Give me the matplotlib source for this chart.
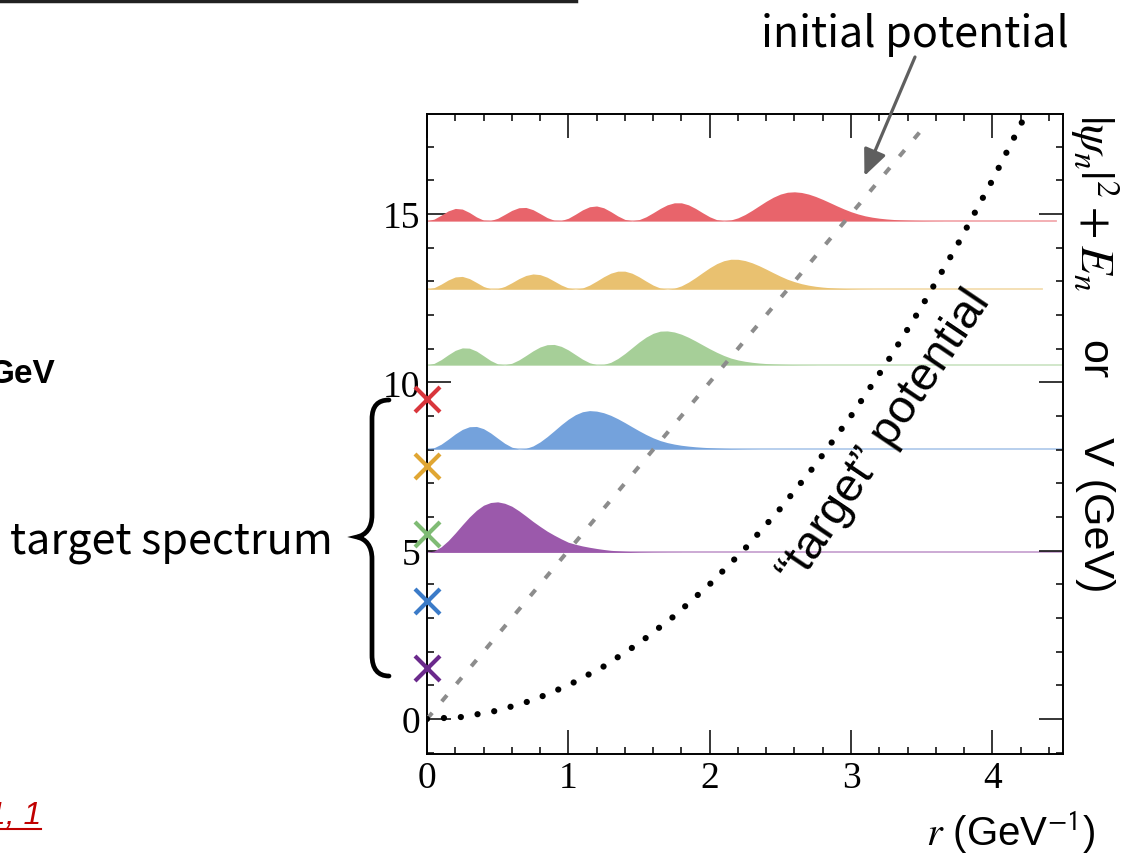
import matplotlib
matplotlib.use('Agg')
import matplotlib.pyplot as plt
import numpy as np
from matplotlib.path import Path
from matplotlib.patches import PathPatch
from matplotlib.transforms import IdentityTransform
from matplotlib.ticker import MultipleLocator

plt.rcParams['mathtext.fontset'] = 'stix'
plt.rcParams['font.family'] = ['Liberation Sans', 'DejaVu Sans']

# |psi_n|^2 sampled every dr from r = 0 (GeV^-1)
dr = 0.05
psi0 = [0, 0.042, 0.163, 0.348, 0.575, 0.818, 1.05, 1.249, 1.40, 1.48, 1.50,
        1.457, 1.37, 1.235, 1.08, 0.918, 0.77, 0.63, 0.51, 0.40, 0.30,
        0.24, 0.19, 0.15, 0.115, 0.085, 0.06, 0.045, 0.032, 0.022, 0.015,
        0.011, 0.007, 0.005, 0.003, 0.002, 0.001]
psi1 = [0, 0.038, 0.142, 0.290, 0.448, 0.581, 0.661, 0.669, 0.603, 0.477, 0.321,
        0.169, 0.054, 0.002, 0.018, 0.090, 0.211, 0.367, 0.542, 0.722, 0.885,
        1.018, 1.106, 1.14, 1.125, 1.077, 1.000, 0.899, 0.784, 0.662, 0.542,
        0.430, 0.331, 0.25, 0.19, 0.145, 0.11, 0.085, 0.065, 0.05, 0.038,
        0.028, 0.02, 0.014, 0.01, 0.006, 0.003, 0.001]
psi2 = [0, 0.042, 0.154, 0.299, 0.430, 0.503, 0.495, 0.408, 0.270, 0.128, 0.027,
        0.001, 0.046, 0.145, 0.277, 0.415, 0.530, 0.598, 0.605, 0.548, 0.442,
        0.305, 0.169, 0.062, 0.005,
        0.011, 0.074, 0.187, 0.336, 0.505, 0.675, 0.823, 0.936, 1.000,
        1.007, 0.975, 0.909, 0.818, 0.709, 0.593, 0.478, 0.372, 0.278,
        0.20, 0.145, 0.105, 0.075, 0.053, 0.037, 0.026, 0.018, 0.012, 0.008,
        0.005, 0.003, 0.001]
psi3 = [0, 0.041, 0.146, 0.270, 0.360, 0.376, 0.312, 0.197, 0.077, 0.007,
        0.012, 0.079, 0.188, 0.309, 0.404, 0.449, 0.429, 0.352, 0.237, 0.120,
        0.032, 0,
        0.031, 0.117, 0.237, 0.365, 0.472, 0.532, 0.532, 0.472, 0.365, 0.237,
        0.117, 0.031, 0,
        0.025, 0.096, 0.206, 0.342, 0.490, 0.633, 0.755, 0.842, 0.886,
        0.884, 0.847, 0.781, 0.693, 0.592, 0.486, 0.384, 0.292,
        0.22, 0.16, 0.115, 0.082, 0.058, 0.04, 0.027, 0.018, 0.011, 0.006,
        0.003, 0.001]
psi4 = [0, 0.047, 0.165, 0.292, 0.365, 0.346, 0.245, 0.113, 0.017,
        0.006, 0.073, 0.188, 0.307, 0.386, 0.394, 0.328, 0.213, 0.093, 0.014,
        0.006, 0.074, 0.193, 0.322, 0.415, 0.438, 0.385, 0.272, 0.142, 0.039, 0,
        0.031, 0.117, 0.237, 0.365, 0.472, 0.532, 0.532, 0.472, 0.365, 0.237,
        0.117, 0.031, 0,
        0.022, 0.086, 0.184, 0.308, 0.444, 0.579, 0.698, 0.791, 0.846,
        0.859, 0.839, 0.791, 0.720, 0.634, 0.539, 0.442, 0.350, 0.268,
        0.20, 0.145, 0.105, 0.075, 0.053, 0.037, 0.025, 0.017, 0.011, 0.007,
        0.004, 0.002, 0.001]
psi = [psi0, psi1, psi2, psi3, psi4]

# energy levels of the initial potential, used as baselines
E_init = [4.95, 8.02, 10.52, 12.77, 14.80]
line_end = [4.5, 4.5, 4.5, 4.35, 4.45]
# target spectrum
E_target = [1.5, 3.5, 5.5, 7.5, 9.5]

fill_colors = ['#9b59ab', '#74a2dc', '#a6cf98', '#e9c170', '#e8646b']
cross_colors = ['#6b2a8c', '#3b7bc8', '#7fbb74', '#e0a633', '#d9363c']

# potentials
r_target = [0, 0.25, 0.5, 0.75, 1.0, 1.25, 1.5, 1.75, 2.0, 2.25, 2.5, 2.75,
            3.0, 3.25, 3.5, 3.75, 4.0, 4.25]
V_target = [0, 0.06, 0.25, 0.56, 1.0, 1.56, 2.25, 3.06, 4.0, 5.06, 6.25, 7.56,
            9.0, 10.56, 12.25, 14.06, 16.0, 18.06]
r_init = [0, 3.55]
V_init = [0, 17.75]

W, H = 1128, 854
fig = plt.figure(figsize=(W / 100, H / 100), dpi=100)
ax = fig.add_axes([427 / W, 1 - 755 / H, 636 / W, 640 / H])

for i in range(5):
    r = np.arange(len(psi[i])) * dr
    ax.plot([0, line_end[i]], [E_init[i], E_init[i]], color=fill_colors[i],
            lw=1.3, alpha=0.55, zorder=1)
    ax.fill_between(r, E_init[i], E_init[i] + np.array(psi[i]),
                    color=fill_colors[i], lw=0, zorder=2)
    ax.plot(0, E_target[i], marker='x', ms=18, mew=3, color=cross_colors[i],
            clip_on=False, zorder=6, ls='none')

ax.plot(r_init, V_init, color='#8c8c8c', lw=2.9, ls=(0, (2, 3.7)), zorder=4)
ax.plot(r_target, V_target, color='black', lw=4.5, ls=(0, (0.01, 2.7)),
        dash_capstyle='round', zorder=4)

ax.set_xlim(0, 4.5)
ax.set_ylim(-1.04, 17.97)
ax.set_xticks([0, 1, 2, 3, 4])
ax.set_yticks([0, 5, 10, 15])
ax.xaxis.set_minor_locator(MultipleLocator(0.2))
ax.yaxis.set_minor_locator(MultipleLocator(1))
ax.tick_params(which='both', direction='in', top=True, right=True,
               width=1.1, labelsize=27, labelfontfamily='Liberation Serif')
ax.tick_params(which='major', length=17, pad=5)
ax.tick_params(which='minor', length=5)
for s in ax.spines.values():
    s.set_linewidth(1.4)

# right-hand axis title, read top to bottom
fig.text(1095 / W, 1 - 114 / H, r'$|\psi_n|^2+E_n$', rotation=270,
         ha='center', va='top', fontsize=34)
fig.text(1095 / W, 1 - 592 / H, 'or     V (GeV)', rotation=270,
         ha='center', va='bottom', fontsize=31)
fig.text(1095 / W, 1 - 832 / H, r'$r$ (GeV$^{\mathsf{-1}}$)',
         ha='right', va='center', fontsize=29)

ax.text(3.24, 8.40, '“target” potential', rotation=56, rotation_mode='anchor',
        ha='center', va='center', fontsize=34, zorder=5)

cjk = ['Noto Sans CJK SC', 'DejaVu Sans']
fig.text(915 / W, 1 - 47 / H, 'initial potential', ha='center', va='baseline',
         fontsize=31, family=cjk)
ax.annotate('', xy=(3.095, 16.13), xycoords='data',
            xytext=(915, H - 58), textcoords='figure pixels',
            arrowprops=dict(arrowstyle='-|>,head_length=0.8,head_width=0.35',
                            color='#5f5f5f', lw=2.3, shrinkA=0, shrinkB=0,
                            mutation_scale=20),
            annotation_clip=False)

fig.text(10 / W, 1 - 553 / H, 'target spectrum', ha='left', va='baseline',
         fontsize=31, family=cjk)

# curly brace grouping the target levels (pixel coordinates, y from top)
brace_pts = [(389, 401), (378, 401), (372, 407), (372, 420),
             (372, 516),
             (372, 529), (366, 536), (357, 538),
             (366, 540), (372, 547), (372, 560),
             (372, 656),
             (372, 670), (378, 677), (389, 677)]
brace_codes = [Path.MOVETO, Path.CURVE4, Path.CURVE4, Path.CURVE4,
               Path.LINETO,
               Path.CURVE4, Path.CURVE4, Path.CURVE4,
               Path.CURVE4, Path.CURVE4, Path.CURVE4,
               Path.LINETO,
               Path.CURVE4, Path.CURVE4, Path.CURVE4]
brace = Path([(x, H - y) for x, y in brace_pts], brace_codes)
fig.add_artist(PathPatch(brace, transform=IdentityTransform(), facecolor='none',
                         edgecolor='black', lw=3.4, capstyle='round'))

# bits of the surrounding slide
fig.add_artist(plt.Line2D([0, 576 / W], [1 - 2 / H, 1 - 2 / H], color='#222222',
                          lw=2.5, transform=fig.transFigure))
fig.text(55 / W, 1 - 375 / H, 'GeV', ha='right', va='center', fontsize=24,
         fontweight='bold')
fig.text(41 / W, 1 - 816 / H, '1, 1', ha='right', va='center', fontsize=23,
         style='italic', color='#c00000')
fig.add_artist(plt.Line2D([0, 41 / W], [1 - 830 / H, 1 - 830 / H], color='#c00000',
                          lw=1.5, transform=fig.transFigure))

fig.savefig('out.png', dpi=100)
